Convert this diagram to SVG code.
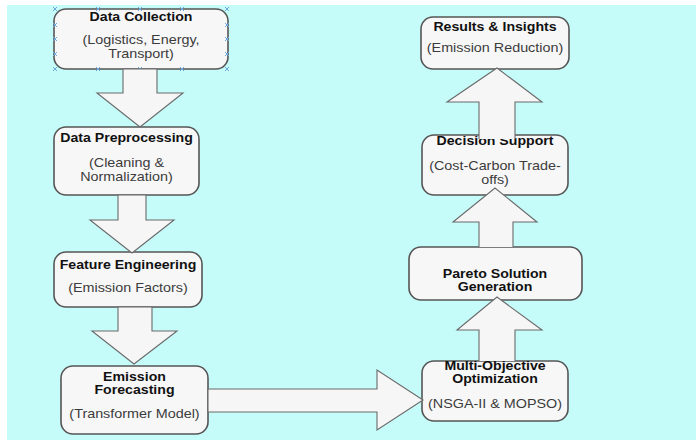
<svg xmlns="http://www.w3.org/2000/svg" width="696" height="440" viewBox="0 0 696 440">
<defs>
<style>
.box{fill:#f7f7f7;stroke:#555;stroke-width:1.6}
.arr{fill:#f6f6f6;stroke:#6a6a6a;stroke-width:1.1;stroke-linejoin:miter}
.t{font-family:"Liberation Sans",Arial,sans-serif;font-weight:bold;font-size:12.4px;fill:#111;text-anchor:middle}
.s{font-family:"Liberation Sans",Arial,sans-serif;font-size:12.6px;fill:#3c3c3c;text-anchor:middle}
.h{stroke:#6fa8dc;stroke-width:1;fill:none}
</style>
<path id="hx" d="M-2,-2 L2,2 M-2,2 L2,-2"/>
</defs>
<rect x="0" y="0" width="696" height="440" fill="#ffffff"/>
<rect x="7" y="5" width="689" height="435" fill="#c5fbf9"/>

<g id="data-collection">
<rect class="box" x="54" y="9" width="174" height="60" rx="12"/>
<g transform="translate(141 0) scale(1.14 1)">
<text class="t" x="0" y="21">Data Collection</text>
<text class="s" x="0" y="44">(Logistics, Energy,</text>
<text class="s" x="0" y="58">Transport)</text>
</g>
<g class="h">
<use href="#hx" x="55" y="9"/><use href="#hx" x="98" y="9"/><use href="#hx" x="140" y="9"/><use href="#hx" x="182" y="9"/><use href="#hx" x="227" y="9"/>
<use href="#hx" x="55" y="69"/><use href="#hx" x="98" y="69"/><use href="#hx" x="140" y="69"/><use href="#hx" x="182" y="69"/><use href="#hx" x="227" y="69"/>
<use href="#hx" x="55" y="25"/><use href="#hx" x="55" y="39"/><use href="#hx" x="55" y="54"/>
<use href="#hx" x="227" y="25"/><use href="#hx" x="227" y="39"/><use href="#hx" x="227" y="54"/>
</g>
</g>

<g id="data-preprocessing">
<rect class="box" x="54" y="127" width="145" height="68" rx="12"/>
<g transform="translate(126.5 0) scale(1.14 1)">
<text class="t" x="0" y="142">Data Preprocessing</text>
<text class="s" x="0" y="167">(Cleaning &amp;</text>
<text class="s" x="0" y="181">Normalization)</text>
</g>
</g>

<g id="feature-engineering">
<rect class="box" x="54" y="252" width="148" height="55" rx="12"/>
<g transform="translate(128 0) scale(1.14 1)">
<text class="t" x="0" y="269">Feature Engineering</text>
<text class="s" x="0" y="292">(Emission Factors)</text>
</g>
</g>

<g id="emission-forecasting">
<rect class="box" x="61" y="366" width="147" height="68" rx="12"/>
<g transform="translate(134.5 0) scale(1.14 1)">
<text class="t" x="0" y="381">Emission</text>
<text class="t" x="0" y="394">Forecasting</text>
<text class="s" x="0" y="418">(Transformer Model)</text>
</g>
</g>

<g id="multi-objective-optimization">
<rect class="box" x="422" y="361" width="146" height="60" rx="12"/>
<g transform="translate(495 0) scale(1.14 1)">
<text class="t" x="0" y="370">Multi-Objective</text>
<text class="t" x="0" y="383">Optimization</text>
<text class="s" x="0" y="408">(NSGA-II &amp; MOPSO)</text>
</g>
</g>

<g id="pareto-solution-generation">
<rect class="box" x="409" y="247" width="173" height="53" rx="12"/>
<g transform="translate(495 0) scale(1.14 1)">
<text class="t" x="0" y="278">Pareto Solution</text>
<text class="t" x="0" y="291">Generation</text>
</g>
</g>

<g id="decision-support">
<rect class="box" x="422" y="135" width="146" height="60" rx="12"/>
<g transform="translate(495 0) scale(1.14 1)">
<text class="t" x="0" y="145">Decision Support</text>
<text class="s" x="0" y="170">(Cost-Carbon Trade-</text>
<text class="s" x="0" y="184">offs)</text>
</g>
</g>

<g id="results-insights">
<rect class="box" x="421" y="17" width="148" height="52" rx="12"/>
<g transform="translate(495 0) scale(1.14 1)">
<text class="t" x="0" y="31">Results &amp; Insights</text>
<text class="s" x="0" y="52">(Emission Reduction)</text>
</g>
</g>

<g id="connectors">
<path class="arr" d="M123,69 L157,69 L157,93 L183,93 L140,127 L97,93 L123,93 Z"/>
<path class="arr" d="M118,195 L146,195 L146,220 L174,220 L132,253 L90,220 L118,220 Z"/>
<path class="arr" d="M118,307 L152,307 L152,331 L177,331 L134,364 L92,331 L118,331 Z"/>
<path class="arr" d="M208,389 L377,389 L377,370 L423,400 L377,430 L377,412 L208,412 Z"/>
<path class="arr" d="M479,361 L479,330 L457,330 L497,297 L542,330 L515,330 L515,361"/>
<path class="arr" d="M479,247 L479,222 L453,222 L495,188 L537,222 L513,222 L513,247"/>
<path class="arr" d="M479,139 L479,102 L447,102 L497,68 L542,102 L515,102 L515,139"/>
</g>
</svg>
